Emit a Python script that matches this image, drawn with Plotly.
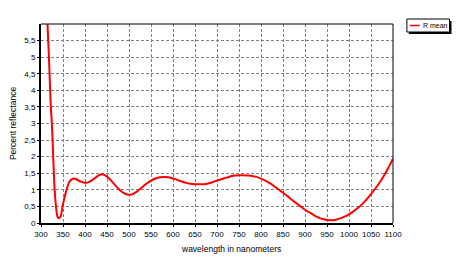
import plotly.graph_objects as go

wavelength = [314, 316, 318, 320, 322, 324, 326, 328, 330, 332, 334, 336, 338, 340, 342, 345, 349, 354, 358, 363, 368,
              375, 380, 390,
              400, 410, 420, 430, 440, 450, 460, 470, 480, 490, 500, 510, 520, 530, 540, 550, 560, 570, 580, 590,
              600, 610, 620, 630, 640, 650, 660, 670, 680, 690, 700, 710, 720, 730, 740, 750, 760, 770, 780, 790,
              800, 810, 820, 830, 840, 850, 860, 870, 880, 890, 900, 910, 920, 930, 940, 950, 960, 970, 980, 990,
              1000, 1010, 1020, 1030, 1040, 1050, 1060, 1070, 1080, 1090, 1100]
r_mean = [6.3, 5.6, 5.0, 4.3, 3.6, 3.15, 2.6, 1.9, 1.25, 0.8, 0.5, 0.28, 0.17, 0.15, 0.16, 0.2, 0.5, 0.8, 1.0, 1.2, 1.3,
          1.34, 1.32, 1.25,
          1.21, 1.24, 1.33, 1.43, 1.47, 1.40, 1.27, 1.12, 0.98, 0.89, 0.85, 0.88, 0.97, 1.08, 1.19, 1.28, 1.34, 1.38, 1.39, 1.38,
          1.34, 1.30, 1.25, 1.21, 1.18, 1.17, 1.17, 1.17, 1.19, 1.23, 1.28, 1.32, 1.36, 1.40, 1.43, 1.44, 1.44, 1.43, 1.42, 1.39,
          1.34, 1.28, 1.20, 1.11, 1.01, 0.91, 0.81, 0.70, 0.60, 0.50, 0.40, 0.32, 0.24, 0.17, 0.12, 0.09, 0.08, 0.10, 0.14, 0.19,
          0.26, 0.35, 0.45, 0.57, 0.71, 0.87, 1.04, 1.23, 1.44, 1.68, 1.94]

x_ticks = list(range(300, 1101, 50))
y_ticks = [0, 0.5, 1, 1.5, 2, 2.5, 3, 3.5, 4, 4.5, 5, 5.5]
y_tick_text = ["0", "0,5", "1", "1,5", "2", "2,5", "3", "3,5", "4", "4,5", "5", "5,5"]
series_name = "R mean"
x_title = "wavelength in nanometers"
y_title = "Percent reflectance"

font = "Liberation Sans, Arial, sans-serif"

fig = go.Figure()
fig.add_trace(go.Scatter(x=wavelength, y=r_mean, mode="lines", name=series_name,
                         line=dict(color="#ff0000", width=2, shape="spline", smoothing=0.4),
                         showlegend=False))

fig.update_layout(
    width=468, height=266,
    margin=dict(l=38, r=75, t=24, b=43),
    paper_bgcolor="white", plot_bgcolor="white",
    font=dict(family=font, size=8, color="black"),
    xaxis=dict(range=[300, 1100], tickvals=x_ticks, showgrid=True,
               gridcolor="#808080", griddash="3px,2px", gridwidth=1,
               showline=True, linecolor="black", linewidth=2,
               ticks="outside", ticklen=2, tickcolor="black",
               zeroline=False,
               tickfont=dict(size=8)),
    yaxis=dict(range=[0, 6], tickvals=y_ticks, ticktext=y_tick_text, showgrid=True,
               gridcolor="#808080", griddash="3px,2px", gridwidth=1,
               showline=True, linecolor="black", linewidth=2,
               ticks="outside", ticklen=2, tickcolor="black",
               zeroline=False,
               title=dict(text=y_title, font=dict(size=8.5), standoff=6),
               tickfont=dict(size=8)),
)

# thin top/right frame
fig.add_shape(type="line", xref="paper", yref="paper", x0=0, x1=1, y0=1, y1=1,
              line=dict(color="black", width=1))
fig.add_shape(type="line", xref="paper", yref="paper", x0=1, x1=1, y0=0, y1=1,
              line=dict(color="black", width=1))

pw = 468 - 38 - 75
ph = 266 - 24 - 43
def px(x):
    return (x - 38) / pw
def py(y):
    return (266 - 43 - y) / ph

# x-axis title (offset to the right as in the original)
fig.add_annotation(xref="paper", yref="paper", x=px(229.5), y=py(249), text=x_title,
                   showarrow=False, xanchor="center", yanchor="middle",
                   font=dict(size=8.5, color="black"))

# legend box (manual) with shadow
fig.add_shape(type="rect", xref="paper", yref="paper", x0=px(409), x1=px(452), y0=py(34), y1=py(21),
              line=dict(width=0), fillcolor="black", layer="above")
fig.add_shape(type="rect", xref="paper", yref="paper", x0=px(407), x1=px(450), y0=py(32), y1=py(19),
              line=dict(color="black", width=1), fillcolor="white", layer="above")
fig.add_shape(type="line", xref="paper", yref="paper", x0=px(410), x1=px(420), y0=py(25.5), y1=py(25.5),
              line=dict(color="#ff0000", width=1.5), layer="above")
fig.add_annotation(xref="paper", yref="paper", x=px(421), y=py(25.5), text=series_name,
                   showarrow=False, xanchor="left", yanchor="middle",
                   font=dict(size=7, color="black"))

fig.write_html("out.html")
